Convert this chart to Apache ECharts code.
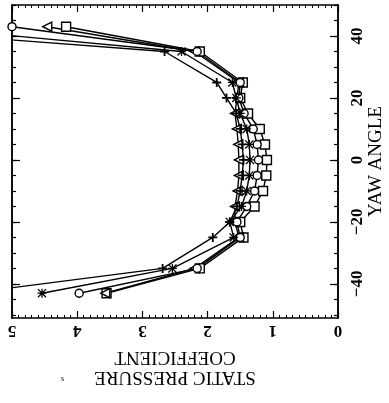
<!DOCTYPE html>
<html>
<head>
<meta charset="utf-8">
<script src="https://cdn.jsdelivr.net/npm/echarts@6/dist/echarts.min.js"></script>
<style>
  html, body { margin: 0; padding: 0; background: #fff; }
  #chart { width: 389px; height: 403px; }
</style>
</head>
<body>
<div id="chart"></div>
<script>
// yaw angles of the measuring points
var yaw = [-43, -35, -25, -20, -15, -10, -5, 0, 5, 10, 15, 20, 25, 35, 43];
// static pressure coefficient, one list per probe
var cpSquare   = [3.55, 2.12, 1.45, 1.50, 1.28, 1.15, 1.10, 1.09, 1.12, 1.20, 1.38, 1.50, 1.46, 2.12, 4.17];
var cpTriangle = [3.57, 2.20, 1.52, 1.58, 1.58, 1.54, 1.52, 1.52, 1.53, 1.55, 1.58, 1.55, 1.52, 2.20, 4.46];
var cpCircle   = [3.97, 2.16, 1.50, 1.55, 1.40, 1.28, 1.24, 1.22, 1.24, 1.30, 1.44, 1.52, 1.50, 2.16, 5.00];
var cpStar     = [4.54, 2.54, 1.60, 1.66, 1.48, 1.40, 1.36, 1.35, 1.36, 1.40, 1.50, 1.56, 1.62, 2.40, 6.50];
var cpPlus     = [5.65, 2.69, 1.92, 1.66, 1.55, 1.50, 1.47, 1.45, 1.47, 1.50, 1.56, 1.71, 1.86, 2.66, 7.70];
// tick labels
var yawLabels = [-40, -20, 0, 20, 40];
var yawMinor = [-50, -45, -40, -35, -30, -25, -20, -15, -10, -5, 0, 5, 10, 15, 20, 25, 30, 35, 40, 45, 50];

var serif = '"Liberation Serif", "DejaVu Serif", serif';

function pairs(vals) {
    return yaw.map(function (a, i) { return [vals[i], a]; });
}

var plusPath = 'path://M4,0h2v4h4v2h-4v4h-2v-4h-4v-2h4z';
var starPath = 'path://M4.3,0h1.4v4.3h4.3v1.4h-4.3v4.3h-1.4v-4.3h-4.3v-1.4h4.3z M1,0L10,9L9,10L0,1Z M9,0L10,1L1,10L0,9Z';

function line(name, vals, symbol, size, rot, filled) {
    return {
        name: name,
        type: 'line',
        xAxisIndex: 0,
        yAxisIndex: 0,
        data: pairs(vals),
        symbol: symbol,
        symbolSize: size,
        symbolRotate: rot,
        showAllSymbol: true,
        clip: true,
        lineStyle: { color: '#000', width: 1.4 },
        itemStyle: {
            color: filled ? '#000' : '#fff',
            borderColor: '#000',
            borderWidth: filled ? 0 : 1.4
        },
        z: 3
    };
}

function minus(v) {
    return String(v).replace('-', '\u2212');
}

var tickAxisY = function (pos, vals, len, label) {
    return {
        type: 'value',
        position: pos,
        min: -51,
        max: 50,
        axisLine: { show: true, onZero: false, lineStyle: { color: '#000', width: 1.5 } },
        axisTick: { show: true, inside: true, length: len, customValues: vals, lineStyle: { color: '#000', width: 1.2 } },
        axisLabel: label ? {
            show: true, customValues: vals, rotate: 90, margin: 11, formatter: minus,
            color: '#000', fontFamily: serif, fontSize: 17, fontWeight: 'bold'
        } : { show: false },
        splitLine: { show: false }
    };
};

var yawChart = {
    backgroundColor: '#fff',
    animation: false,
    grid: {
        left: 12,
        right: 51,
        top: 5,
        bottom: 85,
        outerBoundsMode: 'none'
    },
    xAxis: [
        {
            type: 'value',
            position: 'bottom',
            inverse: true,
            min: 0,
            max: 5,
            interval: 1,
            name: 'STATIC PRESSURE\nCOEFFICIENT',
            nameLocation: 'middle',
            nameGap: 29,
            nameRotate: 180,
            nameTextStyle: { color: '#000', fontFamily: serif, fontSize: 19, lineHeight: 20 },
            axisLine: { onZero: false, lineStyle: { color: '#000', width: 1.5 } },
            axisTick: { inside: true, length: 7, lineStyle: { color: '#000', width: 1.2 } },
            minorTick: { show: true, splitNumber: 10, length: 3, lineStyle: { color: '#000', width: 1 } },
            axisLabel: { rotate: 180, margin: 4, color: '#000', fontFamily: serif, fontSize: 17, fontWeight: 'bold' },
            splitLine: { show: false }
        },
        {
            type: 'value',
            position: 'top',
            inverse: true,
            min: 0,
            max: 5,
            interval: 1,
            axisLine: { onZero: false, lineStyle: { color: '#000', width: 1.5 } },
            axisTick: { inside: true, length: 7, lineStyle: { color: '#000', width: 1.2 } },
            minorTick: { show: true, splitNumber: 10, length: 3, lineStyle: { color: '#000', width: 1 } },
            axisLabel: { show: false },
            splitLine: { show: false }
        }
    ],
    yAxis: [
        (function () {
            var a = tickAxisY('right', yawLabels, 8, true);
            a.name = 'YAW ANGLE';
            a.nameLocation = 'middle';
            a.nameGap = 29;
            a.nameRotate = 90;
            a.nameMoveOverlap = false;
            a.nameTextStyle = { color: '#000', fontFamily: serif, fontSize: 19 };
            return a;
        })(),
        tickAxisY('right', yawMinor, 4, false),
        tickAxisY('left', yawLabels, 8, false),
        tickAxisY('left', yawMinor, 4, false)
    ],
    series: [
        line('square', cpSquare, 'rect', 9, 0, false),
        line('triangle', cpTriangle, 'triangle', 9, 90, false),
        line('circle', cpCircle, 'circle', 8, 0, false),
        line('star', cpStar, starPath, 9, 0, true),
        line('plus', cpPlus, plusPath, 9, 0, true)
    ],
    graphic: [
        { type: 'text', left: 61, top: 375, style: { text: 's', font: '8px ' + serif, fill: '#000' } }
    ]
};

var chartOutChar_yaw = null;
chartOutChar_yaw = echarts.init(document.getElementById('chart'));
chartOutChar_yaw.setOption(yawChart);
</script>
</body>
</html>
